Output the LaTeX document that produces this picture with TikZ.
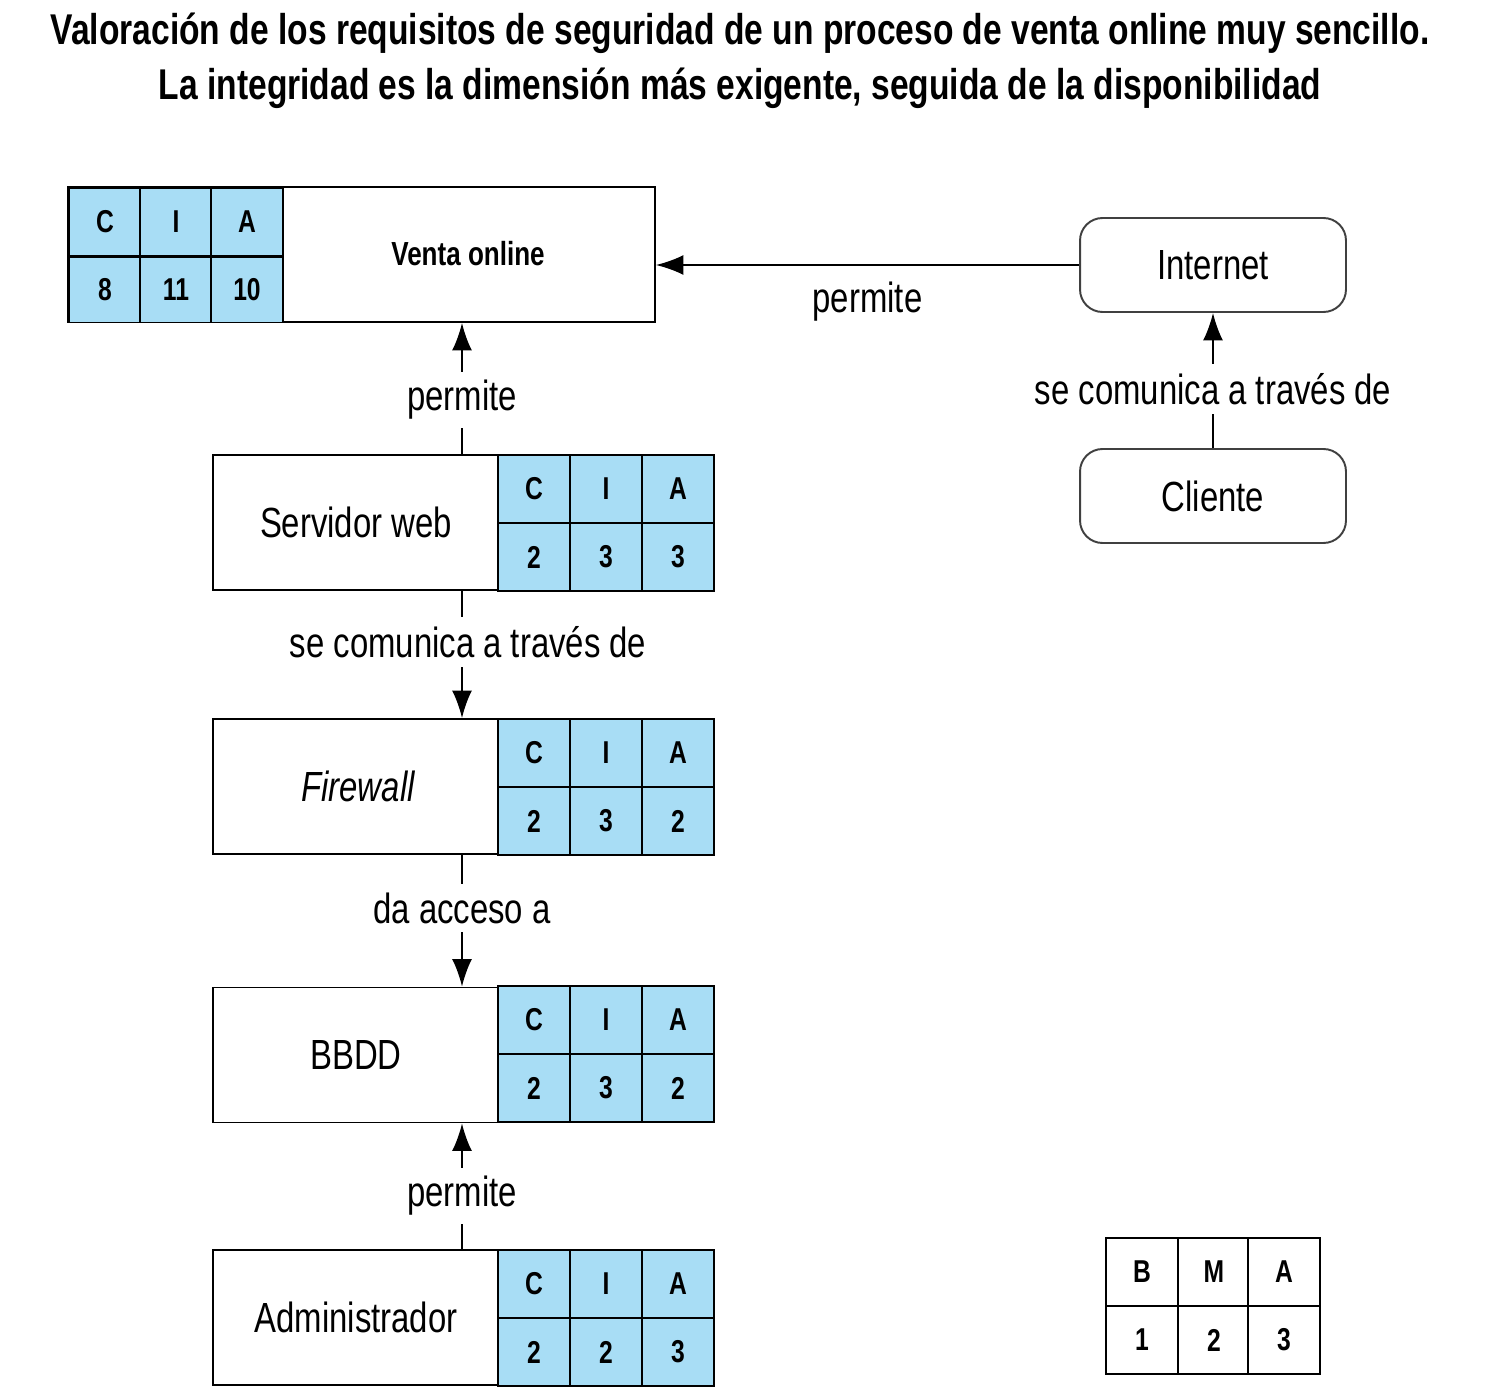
\documentclass[tikz,border=0pt]{standalone}
\usepackage{fontspec}
\setmainfont{Liberation Sans}[FakeStretch=0.78]
\usetikzlibrary{arrows.meta}
\definecolor{ciablue}{HTML}{A8DDF5}
\begin{document}
\begin{tikzpicture}[x=0.02cm, y=-0.02cm]
\useasboundingbox (0,0) rectangle (1495,1395);

\tikzset{every node/.style={font=\fontsize{24}{28}\selectfont}}
\node (title1) at (740,33) {\bfseries\fontsize{24.5}{28}\selectfont Valoración de los requisitos de seguridad de un proceso de venta online muy sencillo.};
\node (title2) at (740,88) {\bfseries\fontsize{24.5}{28}\selectfont La integridad es la dimensión más exigente, seguida de la disponibilidad};

% cajas
\tikzset{box/.style={draw, line width=1.1pt, inner sep=0, minimum height=2.7cm}}
\node[box, minimum width=11.74cm] (venta) at (361.5,254.5) {};
\node[box, minimum width=10.02cm] (servweb) at (463.5,522.5) {};
\node[box, minimum width=10.02cm] (firewall) at (463.5,786.5) {};
\node[box, minimum width=10.02cm] (bbdd) at (463.5,1055) {};
\node[box, minimum width=10.02cm] (admin) at (463.5,1317.5) {};
\tikzset{rbox/.style={draw=black!75, line width=1.1pt, rounded corners=0.45cm, minimum width=5.32cm, minimum height=1.88cm}}
\node[rbox] (internet) at (1213,265) {Internet};
\node[rbox] (cliente) at (1213,496) {Cliente};

\node (ventatxt) at (468,254) {\bfseries\fontsize{19}{22}\selectfont Venta online};
\node (servtxt) at (356,522) {Servidor web};
\node (fwtxt) at (358,786) {\itshape Firewall};
\node (bbddtxt) at (356,1055) {BBDD};
\node (admintxt) at (356,1317) {Administrador};

% tablas CIA
\tikzset{cell/.style={draw, line width=1.1pt, fill=ciablue, inner sep=0, minimum width=1.44cm, minimum height=1.36cm, font=\bfseries\fontsize{18}{20}\selectfont}}
\foreach \n/\x in {c/105, i/176, a/247}
  \node[cell] (venta\n) at (\x,222) {\MakeUppercase{\n}};
\node[cell, minimum height=1.3cm] (venta8) at (105,290) {8};
\node[cell, minimum height=1.3cm] (venta11) at (176,290) {11};
\node[cell, minimum height=1.3cm] (venta10) at (247,290) {10};
\foreach \t/\y/\vc/\vi/\va in {serv/489/2/3/3, fw/753/2/3/2, bd/1020/2/3/2, adm/1284/2/2/3}{
  \node[cell] (\t c) at (534,\y) {C};
  \node[cell] (\t i) at (606,\y) {I};
  \node[cell] (\t a) at (678,\y) {A};
  \node[cell] (\t vc) at (534,\y+68) {\vc};
  \node[cell] (\t vi) at (606,\y+68) {\vi};
  \node[cell] (\t va) at (678,\y+68) {\va};
}

% leyenda
\tikzset{lcell/.style={cell, fill=white}}
\foreach \n/\x/\v in {B/1142/1, M/1214/2, A/1284/3}{
  \node[lcell] (ley\n) at (\x,1272) {\n};
  \node[lcell] (ley\v) at (\x,1340) {\v};
}

% relaciones
\coordinate (eje) at (462,0);
\tikzset{mystyle/.style={-{Latex[length=0.55cm, width=0.4cm]}, line width=1.1pt}}
\tikzset{lbl/.style={fill=white, inner xsep=4pt, inner ysep=5pt}}
\draw [mystyle] (internet) -- node[below=6pt] {permite} (venta.east |- internet);
\draw [mystyle] (cliente) -- (internet);
\draw [mystyle] (servweb.north -| eje) -- (venta.south -| eje);
\draw [mystyle] (servweb.south -| eje) -- (firewall.north -| eje);
\draw [mystyle] (firewall.south -| eje) -- (bbdd.north -| eje);
\draw [mystyle] (admin.north -| eje) -- (bbdd.south -| eje);
\node[lbl] (l1) at (1213,389) {se comunica a través de};
\node[lbl] (l2) at (462,400) {permite};
\node[lbl] (l3) at (468,642) {se comunica a través de};
\node[lbl] (l4) at (462,908) {da acceso a};
\node[lbl] (l5) at (462,1196) {permite};
\end{tikzpicture}
\end{document}
